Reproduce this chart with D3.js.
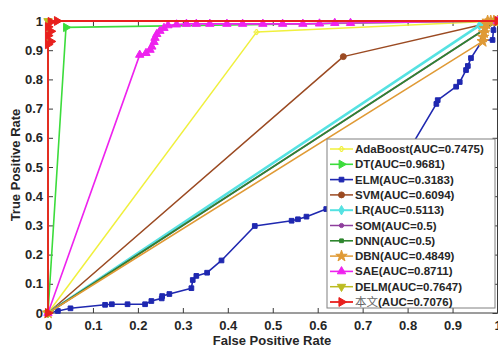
<!DOCTYPE html>
<html>
<head>
<meta charset="utf-8">
<script src="https://cdn.jsdelivr.net/npm/d3@7"></script>
<style>
  html, body { margin: 0; padding: 0; background: #fff; }
  svg { display: block; }
</style>
</head>
<body>
<div id="chart"></div>
<script>
// ---- data ---------------------------------------------------------------
const xTicks = [0, 0.1, 0.2, 0.3, 0.4, 0.5, 0.6, 0.7, 0.8, 0.9, 1];
const yTicks = [0, 0.1, 0.2, 0.3, 0.4, 0.5, 0.6, 0.7, 0.8, 0.9, 1];

const adaFpr = [0, 0.464, 1];
const adaTpr = [0, 0.962, 1];
const dtFpr = [0, 0.04, 1];
const dtTpr = [0, 0.978, 1];
const elmFpr = [0, 0.022, 0.050, 0.127, 0.142, 0.177, 0.216, 0.230, 0.253, 0.254, 0.270, 0.319, 0.322, 0.330, 0.354, 0.386,
  0.460, 0.542, 0.556, 0.575, 0.619, 0.800, 0.864, 0.867, 0.908, 0.916, 0.930, 0.934, 0.941, 0.967, 0.989, 0.991, 0.996, 1];
const elmTpr = [0, 0.007, 0.016, 0.028, 0.030, 0.030, 0.030, 0.041, 0.050, 0.058, 0.065, 0.085, 0.113, 0.127, 0.138, 0.180,
  0.298, 0.316, 0.321, 0.330, 0.356, 0.550, 0.716, 0.729, 0.775, 0.791, 0.832, 0.846, 0.873, 0.935, 0.935, 0.969, 1.0, 1];
const svmFpr = [0, 0.657, 1];
const svmTpr = [0, 0.878, 1];
const lrFpr = [0, 0.96, 1];
const lrTpr = [0, 0.985, 1];
const somFpr = [0, 1];
const somTpr = [0, 1];
const dnnFpr = [0, 1];
const dnnTpr = [0, 1];
const dbnFpr = [0, 0.967, 0.968, 0.970, 0.972, 0.975, 0.978, 0.985, 0.992, 1];
const dbnTpr = [0, 0.930, 0.945, 0.960, 0.975, 0.990, 1.0, 1.0, 1.0, 1];
const saeFpr = [0, 0.204, 0.218, 0.227, 0.231, 0.236, 0.238, 0.242, 0.249, 0.258, 0.267, 0.286, 0.308, 0.330, 0.36,
  0.398, 0.433, 0.478, 0.522, 0.567, 0.604, 0.638, 0.673, 1];
const saeTpr = [0, 0.884, 0.890, 0.901, 0.912, 0.928, 0.942, 0.955, 0.966, 0.976, 0.985, 0.988, 0.990, 0.990, 0.990,
  0.990, 0.990, 0.990, 0.990, 0.990, 0.991, 0.993, 0.993, 1];
const delmFpr = [0, 0, 1];
const delmTpr = [0, 1, 1];
const oursFpr = [0, 0, 0.006, 0, 0.006, 0, 0.006, 0.02, 1];
const oursTpr = [0, 0.92, 0.93, 0.95, 0.965, 0.98, 0.997, 1, 1];

const legendLabels = ["AdaBoost(AUC=0.7475)", "DT(AUC=0.9681)", "ELM(AUC=0.3183)", "SVM(AUC=0.6094)",
  "LR(AUC=0.5113)", "SOM(AUC=0.5)", "DNN(AUC=0.5)", "DBN(AUC=0.4849)", "SAE(AUC=0.8711)",
  "DELM(AUC=0.7647)", "本文(AUC=0.7076)"];

// ---- series styling -----------------------------------------------------
const series = [
  { fpr: adaFpr,  tpr: adaTpr,  color: "#f0f03c", sym: "plus",  size: 14, w: 1.5 },
  { fpr: dtFpr,   tpr: dtTpr,   color: "#3cdc3c", sym: "right", size: 30, w: 1.6 },
  { fpr: elmFpr,  tpr: elmTpr,  color: "#1f28b0", sym: "square", size: 22, w: 1.6 },
  { fpr: svmFpr,  tpr: svmTpr,  color: "#9b4a22", sym: "circle", size: 28, w: 1.5 },
  { fpr: lrFpr,   tpr: lrTpr,   color: "#55e2e2", sym: "diamond", size: 26, w: 2.6 },
  { fpr: somFpr,  tpr: somTpr,  color: "#8e3e9c", sym: "circle", size: 8, w: 1.5 },
  { fpr: dnnFpr,  tpr: dnnTpr,  color: "#2e862e", sym: "square", size: 8, w: 1.6 },
  { fpr: dbnFpr,  tpr: dbnTpr,  color: "#e09a35", sym: "star",  size: 40, w: 1.5 },
  { fpr: saeFpr,  tpr: saeTpr,  color: "#ee22ee", sym: "up",    size: 30, w: 1.6 },
  { fpr: delmFpr, tpr: delmTpr, color: "#bcbc22", sym: "down",  size: 30, w: 1.5 },
  { fpr: oursFpr, tpr: oursTpr, color: "#e8201e", sym: "right", size: 34, w: 1.8 }
];

const W = 498, H = 348;
const TXT = "#262626";
const FONT = "'Liberation Sans', Arial, sans-serif";

const svg = d3.select("#chart").append("svg")
  .attr("width", W).attr("height", H)
  .attr("viewBox", `0 0 ${W} ${H}`);

const x = d3.scaleLinear().domain([0, 1]).range([48, 497.5]);
const y = d3.scaleLinear().domain([0, 1]).range([313, 21]);

// markers
function symPath(kind, size) {
  const s = {
    plus: d3.symbolCross, square: d3.symbolSquare, circle: d3.symbolCircle,
    diamond: d3.symbolDiamond, star: d3.symbolStar,
    up: d3.symbolTriangle, down: d3.symbolTriangle, right: d3.symbolTriangle
  }[kind];
  return d3.symbol().type(s).size(size)();
}
function symRot(kind) {
  return kind === "right" ? 90 : kind === "down" ? 180 : 0;
}

// frame
svg.append("rect")
  .attr("x", x(0)).attr("y", y(1))
  .attr("width", x(1) - x(0)).attr("height", y(0) - y(1))
  .attr("fill", "none").attr("stroke", "#3a3a3a").attr("stroke-width", 1);

// axes (MATLAB style: ticks inward on all four sides)
const gx = svg.append("g").attr("transform", `translate(0,${y(0)})`)
  .call(d3.axisBottom(x).tickValues(xTicks).tickFormat(d => d).tickSizeInner(-5).tickSizeOuter(0).tickPadding(8));
const gy = svg.append("g").attr("transform", `translate(${x(0)},0)`)
  .call(d3.axisLeft(y).tickValues(yTicks).tickFormat(d => d).tickSizeInner(-5).tickSizeOuter(0).tickPadding(5));
const gt = svg.append("g").attr("transform", `translate(0,${y(1)})`)
  .call(d3.axisTop(x).tickValues(xTicks).tickFormat("").tickSizeInner(-5).tickSizeOuter(0));
const gr = svg.append("g").attr("transform", `translate(${x(1)},0)`)
  .call(d3.axisRight(y).tickValues(yTicks).tickFormat("").tickSizeInner(-5).tickSizeOuter(0));

[gx, gy, gt, gr].forEach(g => {
  g.select(".domain").remove();
  g.selectAll(".tick line").attr("stroke", "#3a3a3a");
  g.selectAll("text")
    .attr("fill", TXT)
    .attr("font-family", FONT)
    .attr("font-weight", "bold")
    .attr("font-size", 13);
});

// curves
const line = d3.line().x(d => x(d[0])).y(d => y(d[1]));
const plot = svg.append("g");

series.forEach(s => {
  const pts = s.fpr.map((f, i) => [f, s.tpr[i]]);
  plot.append("path")
    .datum(pts)
    .attr("d", line)
    .attr("fill", "none")
    .attr("stroke", s.color)
    .attr("stroke-width", s.w)
    .attr("stroke-linejoin", "round");
  plot.selectAll(null)
    .data(pts).enter()
    .append("path")
    .attr("d", symPath(s.sym, s.size))
    .attr("transform", d => `translate(${x(d[0])},${y(d[1])}) rotate(${symRot(s.sym)})`)
    .attr("fill", s.sym === "plus" ? "none" : s.color)
    .attr("stroke", s.color)
    .attr("stroke-width", 1);
});

// axis titles
svg.append("text")
  .attr("x", 272).attr("y", 345)
  .attr("text-anchor", "middle")
  .attr("font-family", FONT).attr("font-weight", "bold").attr("font-size", 13)
  .attr("fill", TXT)
  .text("False Positive Rate");

svg.append("text")
  .attr("transform", "translate(20,165) rotate(-90)")
  .attr("text-anchor", "middle")
  .attr("font-family", FONT).attr("font-weight", "bold").attr("font-size", 13)
  .attr("fill", TXT)
  .text("True Positive Rate");

// legend
const lg = svg.append("g");
lg.append("rect")
  .attr("x", 327).attr("y", 139).attr("width", 168).attr("height", 169)
  .attr("fill", "#fff").attr("stroke", "#808080").attr("stroke-width", 1);

legendLabels.forEach((lab, i) => {
  const s = series[i];
  const cy = 149 + i * 15.3;
  lg.append("line")
    .attr("x1", 330).attr("x2", 353).attr("y1", cy).attr("y2", cy)
    .attr("stroke", s.color).attr("stroke-width", Math.min(s.w, 2));
  lg.append("path")
    .attr("d", symPath(s.sym, Math.max(s.size, 14)))
    .attr("transform", `translate(341.5,${cy}) rotate(${symRot(s.sym)})`)
    .attr("fill", s.sym === "plus" ? "none" : s.color)
    .attr("stroke", s.color).attr("stroke-width", 1);
  const t = lg.append("text")
    .attr("x", 355).attr("y", cy).attr("dy", "0.35em")
    .attr("font-family", FONT).attr("font-weight", "bold").attr("font-size", 11.5)
    .attr("fill", TXT);
  if (lab.startsWith("本文")) {
    t.append("tspan")
      .attr("font-family", "'Noto Sans CJK SC', sans-serif")
      .attr("font-weight", "normal").attr("fill", "#666")
      .text("本文");
    t.append("tspan").text(lab.slice(2));
  } else {
    t.text(lab);
  }
});
</script>
</body>
</html>
